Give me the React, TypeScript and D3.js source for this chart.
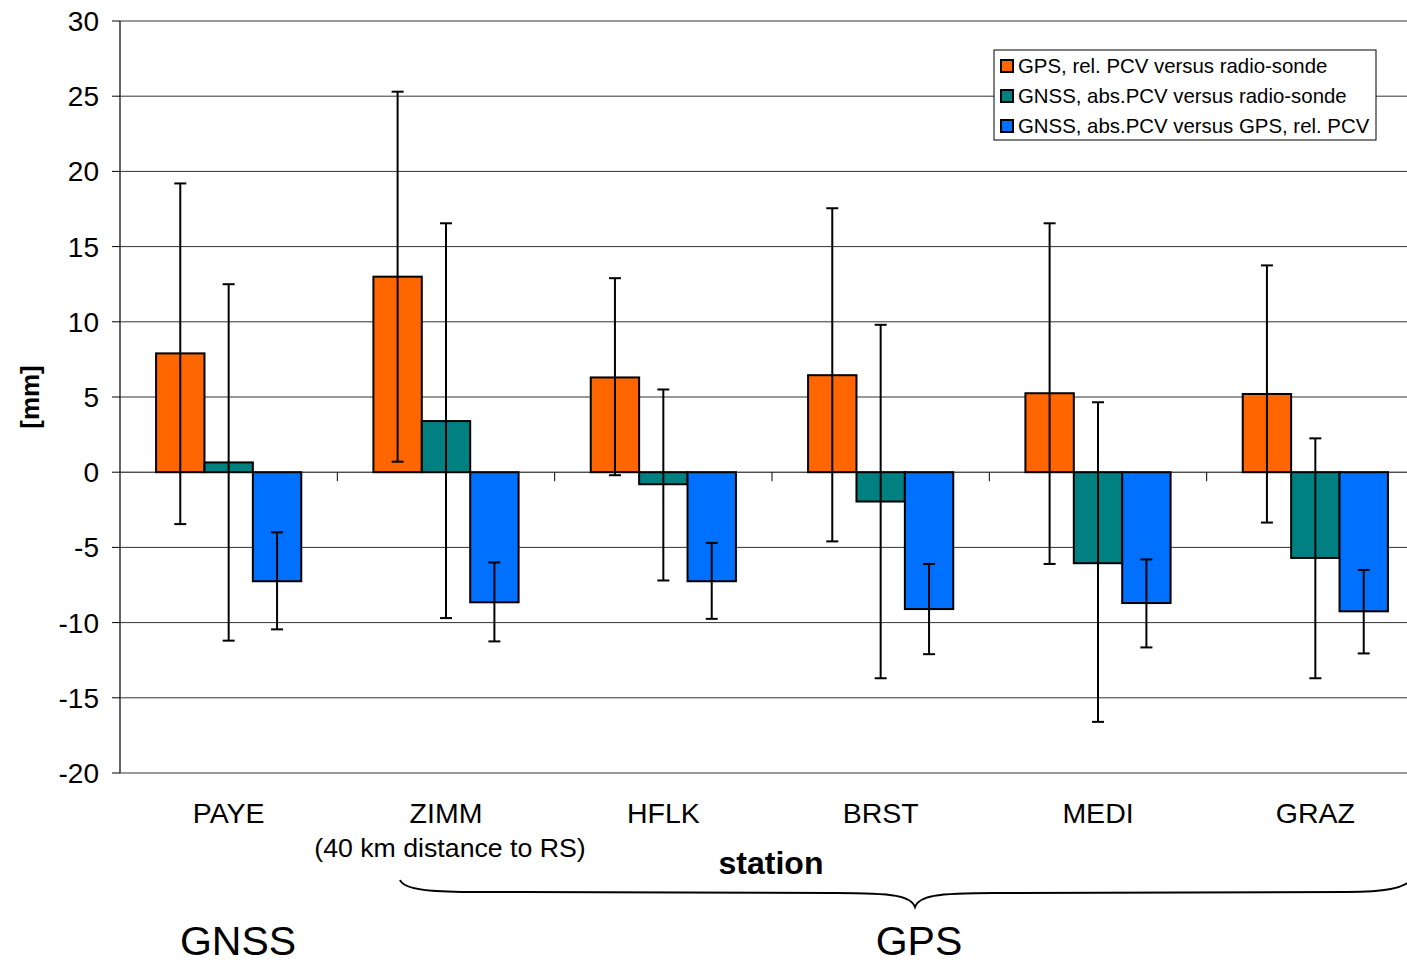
import React from "react";
import * as d3 from "d3";

const stations = ["PAYE", "ZIMM", "HFLK", "BRST", "MEDI", "GRAZ"];
const seriesNames = [
  "GPS, rel. PCV versus radio-sonde",
  "GNSS, abs.PCV versus radio-sonde",
  "GNSS, abs.PCV versus GPS, rel. PCV",
];
const colors = ["#ff6600", "#008080", "#0070ff"];

// bar values per series
const gpsRelRs = [7.9, 13.0, 6.3, 6.45, 5.25, 5.2];
const gnssAbsRs = [0.65, 3.4, -0.8, -1.95, -6.05, -5.7];
const gnssAbsGps = [-7.25, -8.65, -7.25, -9.1, -8.7, -9.25];

// error bar extents (high, low)
const gpsRelRsHi = [19.2, 25.3, 12.9, 17.55, 16.55, 13.75];
const gpsRelRsLo = [-3.45, 0.7, -0.2, -4.6, -6.1, -3.35];
const gnssAbsRsHi = [12.5, 16.55, 5.5, 9.8, 4.65, 2.25];
const gnssAbsRsLo = [-11.2, -9.7, -7.2, -13.7, -16.6, -13.7];
const gnssAbsGpsHi = [-4.0, -6.0, -4.7, -6.1, -5.8, -6.5];
const gnssAbsGpsLo = [-10.45, -11.25, -9.75, -12.1, -11.65, -12.05];

const yTicks = [30, 25, 20, 15, 10, 5, 0, -5, -10, -15, -20];

const values = [gpsRelRs, gnssAbsRs, gnssAbsGps];
const highs = [gpsRelRsHi, gnssAbsRsHi, gnssAbsGpsHi];
const lows = [gpsRelRsLo, gnssAbsRsLo, gnssAbsGpsLo];

export default function App() {
  const W = 1407;
  const H = 966;
  const left = 120;
  const top = 21;
  const bottom = 773;
  const right = 1424; // plot runs past the image edge

  const x = d3.scaleBand().domain(stations).range([left, right]);
  const bw = x.bandwidth();
  const inner = d3
    .scaleBand<number>()
    .domain([0, 1, 2])
    .range([bw * 0.166, bw * 0.834]);
  const y = d3.scaleLinear().domain([-20, 30]).range([bottom, top]);

  const font = "'Liberation Sans', Arial, sans-serif";

  // brace under the GPS stations
  const bx0 = 400, bxm = 915, by = 880;
  const brace = `M${bx0},${by} C${bx0 + 5},${by + 14} ${bx0 + 60},${by + 12} ${bx0 + 120},${by + 12} L${bxm - 80},${by + 13} C${bxm - 20},${by + 13} ${bxm - 4},${by + 16} ${bxm},${by + 27} C${bxm + 4},${by + 16} ${bxm + 20},${by + 13} ${bxm + 80},${by + 13} L${W - 60},${by + 12} C${W - 20},${by + 12} ${W - 5},${by + 8} ${W + 5},${by}`;

  return (
    <svg
      width={W}
      height={H}
      style={{ position: "absolute", left: 0, top: 0, background: "#fff" }}
    >
      {/* gridlines */}
      {yTicks.map((t) => (
        <line
          key={"g" + t}
          x1={left}
          x2={right}
          y1={y(t)}
          y2={y(t)}
          stroke={t === 0 ? "#000" : t === -20 ? "#999" : "#333"}
          strokeWidth={t === -20 ? 2 : 1}
        />
      ))}
      {/* y axis */}
      <line x1={left} x2={left} y1={top} y2={bottom} stroke="#333" strokeWidth={1.5} />
      {yTicks.map((t) => (
        <g key={"t" + t}>
          <line x1={left - 8} x2={left} y1={y(t)} y2={y(t)} stroke="#000" />
          <text
            x={left - 21}
            y={y(t) + 10}
            textAnchor="end"
            fontFamily={font}
            fontSize={28}
          >
            {t}
          </text>
        </g>
      ))}
      {/* category tick marks on zero line */}
      {stations.slice(1).map((s) => (
        <line
          key={"c" + s}
          x1={x(s)!}
          x2={x(s)!}
          y1={y(0)}
          y2={y(0) + 9}
          stroke="#000"
        />
      ))}
      {/* bars */}
      {values.map((vals, si) =>
        vals.map((v, i) => {
          const bx = x(stations[i])! + inner(si)!;
          return (
            <rect
              key={`b${si}-${i}`}
              x={bx}
              y={Math.min(y(v), y(0))}
              width={inner.bandwidth()}
              height={Math.abs(y(v) - y(0))}
              fill={colors[si]}
              stroke="#000"
              strokeWidth={2}
            />
          );
        })
      )}
      {/* error bars */}
      {values.map((vals, si) =>
        vals.map((v, i) => {
          const cx = x(stations[i])! + inner(si)! + inner.bandwidth() / 2;
          const hi = highs[si][i];
          const lo = lows[si][i];
          return (
            <g key={`e${si}-${i}`} stroke="#000" strokeWidth={2}>
              <line x1={cx} x2={cx} y1={y(hi)} y2={y(lo)} />
              <line x1={cx - 6} x2={cx + 6} y1={y(hi)} y2={y(hi)} />
              <line x1={cx - 6} x2={cx + 6} y1={y(lo)} y2={y(lo)} />
            </g>
          );
        })
      )}
      {/* category labels */}
      {stations.map((s) => (
        <text
          key={"l" + s}
          x={x(s)! + bw / 2}
          y={823}
          textAnchor="middle"
          fontFamily={font}
          fontSize={28.5}
        >
          {s}
        </text>
      ))}
      <text
        x={x("ZIMM")! + bw / 2 + 4}
        y={857}
        textAnchor="middle"
        fontFamily={font}
        fontSize={26.7}
      >
        (40 km distance to RS)
      </text>
      <text x={771} y={874} textAnchor="middle" fontFamily={font} fontSize={32} fontWeight="bold">
        station
      </text>
      <text
        transform={`translate(39,397) rotate(-90)`}
        textAnchor="middle"
        fontFamily={font}
        fontSize={26}
        fontWeight="bold"
      >
        [mm]
      </text>
      {/* brace and groups */}
      <path d={brace} fill="none" stroke="#000" strokeWidth={2} />
      <text x={238} y={955} textAnchor="middle" fontFamily={font} fontSize={41}>
        GNSS
      </text>
      <text x={919} y={955} textAnchor="middle" fontFamily={font} fontSize={41}>
        GPS
      </text>
      {/* legend */}
      <g>
        <rect x={994} y={50} width={382} height={90} fill="#fff" stroke="#000" strokeWidth={1} />
        {seriesNames.map((n, i) => (
          <g key={"lg" + i}>
            <rect
              x={1001}
              y={60 + i * 30}
              width={12}
              height={12}
              fill={colors[i]}
              stroke="#000"
              strokeWidth={2}
            />
            <text x={1018} y={73 + i * 30} fontFamily={font} fontSize={20.4}>
              {n}
            </text>
          </g>
        ))}
      </g>
    </svg>
  );
}
